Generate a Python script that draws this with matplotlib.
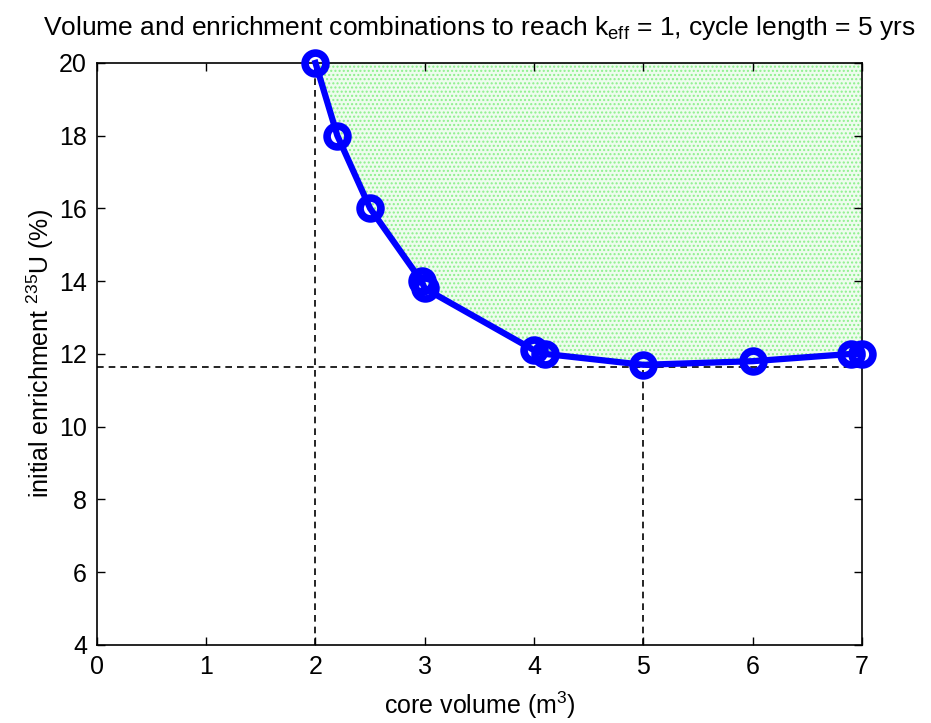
import matplotlib
matplotlib.use("Agg")
import matplotlib.pyplot as plt
import numpy as np

volume = [2.0, 2.2, 2.5, 2.97, 3.0, 4.0, 4.1, 5.0, 6.0, 6.9, 7.0]
enrichment = [20.0, 18.0, 16.0, 14.0, 13.8, 12.1, 12.0, 11.7, 11.8, 12.0, 12.0]
min_enrichment = 11.65
min_volume = 2.0
opt_volume = 5.0
xticks = [0, 1, 2, 3, 4, 5, 6, 7]
yticks = [4, 6, 8, 10, 12, 14, 16, 18, 20]

plt.rcParams['font.family'] = ['Liberation Sans', 'DejaVu Sans']
plt.rcParams['mathtext.fontset'] = 'custom'
plt.rcParams['mathtext.rm'] = 'Liberation Sans'

fig = plt.figure(figsize=(9.31, 7.23), dpi=100)
ax = fig.add_axes([0.104, 0.108, 0.822, 0.805])

ax.fill_between(volume, enrichment, 20, facecolor='#eefcee', edgecolor='#8cf08c',
                hatch='....', linewidth=0, zorder=1)
ax.plot([min_volume, min_volume], [4, 20], 'k--', lw=1.2, dashes=(4, 3), zorder=2)
ax.plot([0, 7], [min_enrichment, min_enrichment], 'k--', lw=1.2, dashes=(4, 3), zorder=2)
ax.plot([opt_volume, opt_volume], [4, min_enrichment], 'k--', lw=1.2, dashes=(4, 3), zorder=2)
ax.plot(volume, enrichment, '-o', color='#0000ff', lw=4.5, markersize=15,
        markerfacecolor='none', markeredgewidth=5.5, zorder=3, clip_on=False)

ax.set_xlim(0, 7)
ax.set_ylim(4, 20)
ax.set_xticks(xticks)
ax.set_yticks(yticks)
ax.tick_params(direction='in', top=True, right=True, labelsize=18, length=6, width=1, pad=7)
for s in ax.spines.values():
    s.set_linewidth(1.2)

ax.set_xlabel('core volume (m$^3$)', fontsize=18, labelpad=8)
ax.set_ylabel('initial enrichment $^{235}$U (%)', fontsize=18, labelpad=2)
ax.set_title('Volume and enrichment combinations to reach k$_{\\mathregular{eff}}$ = 1, cycle length = 5 yrs',
             fontsize=19, pad=20)

fig.savefig('out.png', dpi=100)
